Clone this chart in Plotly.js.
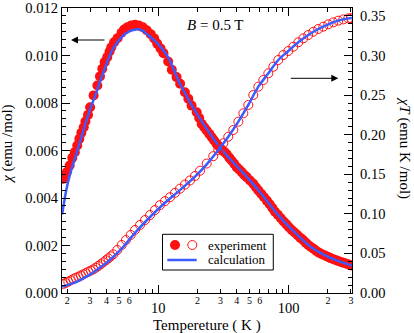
<!DOCTYPE html>
<html>
<head>
<meta charset="utf-8">
<script src="https://cdn.plot.ly/plotly-3.0.1.min.js"></script>
<style>
  body { margin: 0; background: #fff; }
  #graph { width: 414px; height: 333px; }
</style>
</head>
<body>
<div id="graph"></div>
<script>
// susceptibility, experiment (filled circles)
const tempChi = [
  1.88, 1.99, 2.09, 2.19, 2.29, 2.39, 2.48, 2.57, 2.68, 2.76, 2.89, 3.00, 3.19, 3.41, 3.57,
  3.72, 3.88, 4.06, 4.23, 4.36, 4.58, 4.87, 5.22, 5.47, 5.79, 6.19, 6.63,
  7.10, 7.60, 8.15, 8.75, 9.30, 9.80, 10.4, 10.95, 11.9, 12.7, 13.8, 14.7, 16.0, 17.0, 18.0,
  19.7, 20.6, 21.5, 22.5, 23.5, 24.6, 25.7, 26.8, 28.0, 29.3, 30.6, 32.0, 33.5, 35.0, 36.5,
  38.2, 39.9, 41.7, 43.6, 45.5, 47.6,
  50.5, 53.5, 56.0, 58.5, 61.5, 64.5, 68.0, 71.5, 75.0, 78.5, 82.5, 87.0, 91.5, 96.0, 100.5,
  105.5, 111.0, 117.0, 123.0, 129.5, 135.0, 141.3, 148.0, 155.0, 163.0, 171.0, 180.0, 189.7,
  199.0, 209.0, 220.0, 231.0, 242.0, 254.7, 267.0, 280.0, 292.0, 300.0
];
const chiExp = [
  0.00481, 0.00509, 0.00537, 0.00569, 0.00593, 0.00621, 0.00649, 0.00675, 0.00698, 0.00722,
  0.00750, 0.00782, 0.00832, 0.00874, 0.00912, 0.00944, 0.00972, 0.00993, 0.01017, 0.01035,
  0.01056, 0.01073, 0.01096, 0.01109, 0.01119, 0.01126, 0.01129,
  0.01126, 0.01119, 0.01106, 0.01090, 0.01072, 0.01050, 0.01030, 0.01010, 0.00975, 0.00940,
  0.00909, 0.00881, 0.00845, 0.00818, 0.00789, 0.00761, 0.00737, 0.00712, 0.00698, 0.00684,
  0.00670, 0.00656, 0.00642, 0.00628, 0.00617, 0.00604, 0.00595, 0.00584, 0.00570, 0.00558,
  0.00544, 0.00530, 0.00520, 0.00509, 0.00498, 0.00488,
  0.00474, 0.00460, 0.00445, 0.00432, 0.00418, 0.00404, 0.00389, 0.00374, 0.00358, 0.00342,
  0.00330, 0.00315, 0.00301, 0.00289, 0.00277, 0.00265, 0.00255, 0.00243, 0.00232, 0.00222,
  0.00212, 0.00202, 0.00194, 0.00186, 0.00177, 0.00170, 0.00163, 0.00158, 0.00153, 0.00147,
  0.00142, 0.00138, 0.00134, 0.00130, 0.00126, 0.00122, 0.00119, 0.00116
];

// chi*T, experiment (open circles)
const tempChiT = [
  1.87, 1.95, 2.04, 2.13, 2.23, 2.33, 2.44, 2.55, 2.66, 2.78, 2.91, 3.04, 3.17, 3.32, 3.47,
  3.62, 3.79, 3.96, 4.14, 4.32, 4.52, 4.85, 5.24, 5.65, 6.14, 6.63, 7.24, 7.91, 8.64, 9.43,
  10.3, 11.25, 12.29, 13.43, 14.67, 16.02, 17.5, 19.12, 20.9, 23.5, 26.4, 28.85, 31.5, 34.4,
  37.6, 41.1, 44.9, 49.0, 53.5, 58.5, 63.9, 69.8, 76.2, 83.2, 90.9, 99.3, 108.5, 118.5,
  129.4, 141.3, 154.4, 168.7, 184.2, 201.3, 219.8, 240.1, 262.2, 286.4, 300
];
const chiTExp = [
  0.0115, 0.0128, 0.0143, 0.0160, 0.0177, 0.0192, 0.0206, 0.0221, 0.0236, 0.0252, 0.0269,
  0.0284, 0.0299, 0.0320, 0.0341, 0.0364, 0.0388, 0.0413, 0.0438, 0.0463, 0.0489, 0.0543,
  0.0606, 0.0669, 0.0733, 0.0796, 0.0859, 0.0922, 0.0985, 0.1048, 0.1110, 0.1160, 0.1210,
  0.1265, 0.1318, 0.1370, 0.1422, 0.1478, 0.1545, 0.1635, 0.1728, 0.1806, 0.1891, 0.1974,
  0.2059, 0.2164, 0.2270, 0.2375, 0.2501, 0.2606, 0.2690, 0.2775, 0.2858, 0.2943, 0.3006,
  0.3057, 0.3111, 0.3167, 0.3217, 0.3259, 0.3300, 0.3335, 0.3364, 0.3394, 0.3419, 0.3440,
  0.3456, 0.3469, 0.3472
];

// calculation curves
const tempCalcChi = [1.83, 2.03, 2.42, 2.89, 3.35, 3.88, 4.49, 5.36, 6.0, 6.8, 7.5, 8.15, 9.95,
  11.87, 14.67, 20.0, 29.7, 50.5, 62.1, 83.2, 111.8, 150, 201, 254.7, 305];
const chiCalc = [0.00330, 0.00467, 0.00607, 0.00747, 0.00845, 0.00944, 0.01028, 0.01084, 0.01102,
  0.01110, 0.01106, 0.01091, 0.01049, 0.00993, 0.00881, 0.00750, 0.00614, 0.00474, 0.00416,
  0.00328, 0.00254, 0.00192, 0.00152, 0.00130, 0.00115];
const tempCalcChiT = [1.83, 2.0, 2.43, 2.9, 3.17, 4.14, 5.24, 6.63, 8.64, 11.25, 14.67, 19.12, 23.5,
  28.85, 34.4, 41.1, 49.0, 58.5, 69.8, 83.2, 99.3, 118.5, 141.3, 168.7, 201.3, 240.1, 286.4, 305];
const chiTCalc = [0.0080, 0.0100, 0.0150, 0.0220, 0.0260, 0.0400, 0.0560, 0.0760, 0.0960, 0.1140,
  0.1300, 0.1470, 0.1625, 0.1806, 0.1974, 0.2164, 0.2375, 0.2606, 0.2775, 0.2943, 0.3057,
  0.3167, 0.3259, 0.3335, 0.3394, 0.3440, 0.3469, 0.3475];

// log axis ticks
const majorTicks = [10, 100];
const minorTicks = [2, 3, 4, 5, 6, 7, 8, 9, 20, 30, 40, 50, 60, 70, 80, 90, 200, 300];
const minorLabelVals = [2, 3, 4, 5, 6, 20, 30, 40, 50, 60, 200, 300];
const minorLabelText = ['2', '3', '4', '5', '6', '2', '3', '4', '5', '6', '2', '3'];

const RED = '#ff1010';
const BLUE = '#3a5cff';
const FONT = '"Liberation Serif", "Times New Roman", serif';
const xRange = [0.2615, 2.4855];

const traces = [
  {
    x: tempChi, y: chiExp, type: 'scatter', mode: 'markers', yaxis: 'y',
    marker: { symbol: 'circle', size: 10, color: RED, line: { width: 0 } }
  },
  {
    x: tempCalcChi, y: chiCalc, type: 'scatter', mode: 'lines', yaxis: 'y',
    line: { color: BLUE, width: 2.5, shape: 'spline', smoothing: 1 }
  },
  {
    x: tempChiT, y: chiTExp, type: 'scatter', mode: 'markers', yaxis: 'y2',
    marker: { symbol: 'circle-open', size: 9, color: RED, line: { width: 1 } }
  },
  {
    x: tempCalcChiT, y: chiTCalc, type: 'scatter', mode: 'lines', yaxis: 'y2',
    line: { color: BLUE, width: 2.5, shape: 'spline', smoothing: 1 }
  },
  // empty trace so the label-only axis (x2) gets drawn
  { x: [], y: [], type: 'scatter', mode: 'markers', xaxis: 'x2', yaxis: 'y', hoverinfo: 'skip' }
];

const axisBase = {
  showgrid: false, zeroline: false, showline: true,
  linecolor: '#000', linewidth: 1.2, tickcolor: '#000', tickwidth: 1,
  ticks: 'inside', ticklen: 8
};

function label(x, y, text, extra) {
  return Object.assign({
    xref: 'paper', yref: 'paper', x: x, y: y, text: text, showarrow: false,
    xanchor: 'center', yanchor: 'middle', font: { size: 15 }
  }, extra || {});
}

function arrow(x, y, ax) {
  return {
    xref: 'paper', yref: 'paper', x: x, y: y, ax: ax, ay: 0, text: '',
    showarrow: true, arrowhead: 2, arrowsize: 1.4, arrowwidth: 1, arrowcolor: '#000'
  };
}

const layout = {
  width: 414, height: 333,
  margin: { l: 62, r: 62, t: 8, b: 40 },
  paper_bgcolor: '#fff', plot_bgcolor: '#fff',
  font: { family: FONT, size: 14.5, color: '#000' },
  showlegend: false,
  xaxis: Object.assign({}, axisBase, {
    type: 'log', range: xRange, mirror: 'ticks',
    tickmode: 'array', tickvals: majorTicks, ticktext: majorTicks.map(String),
    tickfont: { size: 14.5 }, ticklabelstandoff: 1,
    minor: { tickmode: 'array', tickvals: minorTicks, ticks: 'inside', ticklen: 4, tickcolor: '#000', showgrid: false }
  }),
  xaxis2: {
    type: 'log', range: xRange, overlaying: 'x', anchor: 'y', side: 'bottom',
    tickmode: 'array', tickvals: minorLabelVals, ticktext: minorLabelText,
    ticks: '', showline: false, showgrid: false, zeroline: false,
    tickfont: { size: 10 }
  },
  yaxis: Object.assign({}, axisBase, {
    range: [0, 0.012], tick0: 0, dtick: 0.002, tickformat: '.3f',
    minor: { dtick: 0.002 / 6, ticks: 'inside', ticklen: 4, tickcolor: '#000', showgrid: false }
  }),
  yaxis2: Object.assign({}, axisBase, {
    overlaying: 'y', side: 'right', anchor: 'x',
    range: [0, 0.36], tick0: 0, dtick: 0.05, tickformat: '.2f', ticklabelstandoff: 4,
    minor: { dtick: 0.01, ticks: 'inside', ticklen: 4, tickcolor: '#000', showgrid: false }
  }),
  annotations: [
    label(0.531, 0.94, '<i>B</i> = 0.5 T'),
    arrow(0.031, 0.8877, 35),
    arrow(0.9528, 0.7533, -49),
    label(0.5, -0.113, 'Tempereture ( K )'),
    label(-0.186, 0.52, '<i>χ</i> (emu /mol)', { textangle: -90 }),
    label(1.179, 0.51, '<i>χT</i> (emu K /mol)', { textangle: 90 }),
    label(0.4966, 0.1684, 'experiment', { xanchor: 'left', font: { size: 13 } }),
    label(0.4966, 0.1158, 'calculation', { xanchor: 'left', font: { size: 13 } })
  ],
  shapes: [
    { type: 'rect', xref: 'paper', yref: 'paper', x0: 0.3466, x1: 0.7286, y0: 0.0807, y1: 0.206,
      line: { color: '#000', width: 1 }, fillcolor: '#fff' },
    { type: 'circle', xref: 'paper', yref: 'paper', xsizemode: 'pixel', ysizemode: 'pixel',
      xanchor: 0.3897, yanchor: 0.1684, x0: -5, x1: 5, y0: -5, y1: 5,
      fillcolor: RED, line: { width: 0 } },
    { type: 'circle', xref: 'paper', yref: 'paper', xsizemode: 'pixel', ysizemode: 'pixel',
      xanchor: 0.4493, yanchor: 0.1684, x0: -4.5, x1: 4.5, y0: -4.5, y1: 4.5,
      fillcolor: 'rgba(0,0,0,0)', line: { color: RED, width: 1 } },
    { type: 'line', xref: 'paper', yref: 'paper', x0: 0.3631, x1: 0.4645, y0: 0.1158, y1: 0.1158,
      line: { color: BLUE, width: 2.5 } }
  ]
};

Plotly.newPlot('graph', traces, layout, { displayModeBar: false, staticPlot: true });
</script>
</body>
</html>
